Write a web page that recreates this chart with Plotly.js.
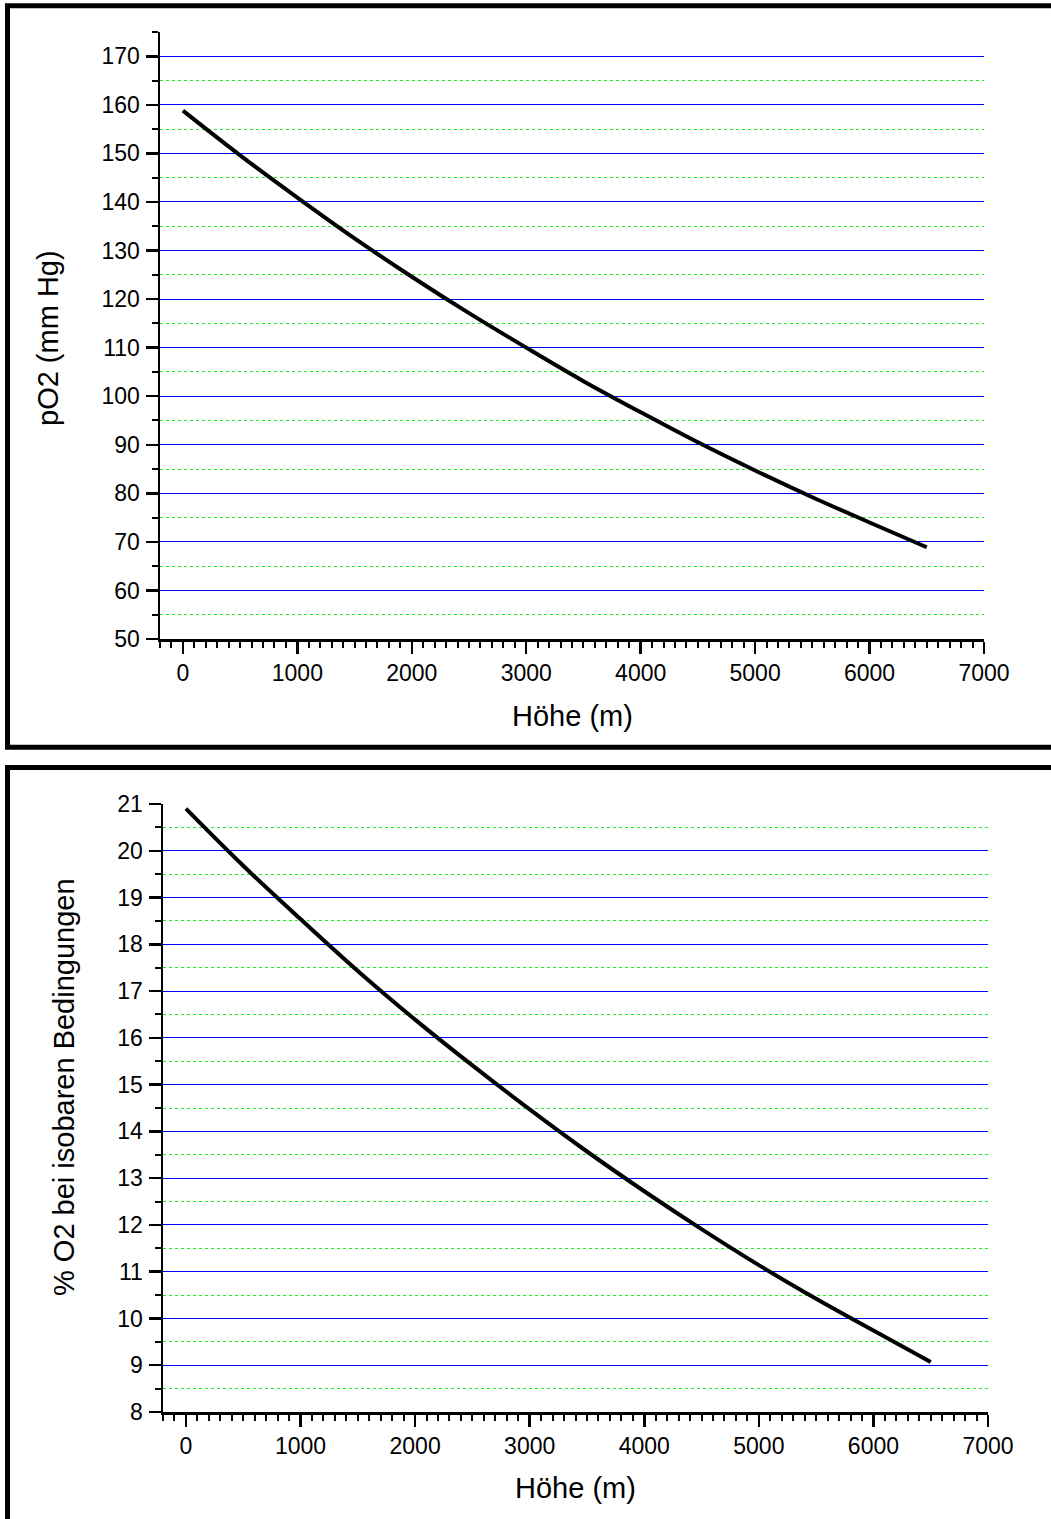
<!DOCTYPE html>
<html>
<head>
<meta charset="utf-8">
<script src="https://cdn.plot.ly/plotly-3.0.1.min.js"></script>
<style>
  html, body { margin: 0; padding: 0; background: #fff; }
  #chart { width: 1051px; height: 1519px; }
</style>
</head>
<body>
<div id="chart"></div>
<script>
// Altitude (m)
const heights = [0, 500, 1000, 1500, 2000, 2500, 3000, 3500, 4000, 4500, 5000, 5500, 6000, 6500];
// Partial pressure of O2 (mm Hg)
const pO2 = [158.8, 149.6, 140.9, 132.5, 124.6, 117.1, 110.0, 103.1, 96.7, 90.5, 84.7, 79.2, 74.0, 68.9];
// Equivalent % O2 at isobaric conditions
const pctO2 = [20.9, 19.68, 18.54, 17.43, 16.39, 15.41, 14.47, 13.57, 12.72, 11.91, 11.14, 10.42, 9.74, 9.07];

const xTitle = 'Höhe (m)';
const yTitleTop = 'pO2 (mm Hg)';
const yTitleBottom = '% O2 bei isobaren Bedingungen';

const W = 1051, H = 1519;
const px = v => v / W;
const py = v => (H - v) / H;

const FONT = 'Liberation Sans, Arial, sans-serif';
const tickFont = { family: FONT, size: 23, color: '#000' };
const titleFont = { family: FONT, size: 29, color: '#000' };

const xAxisBase = {
  range: [-200, 7000],
  tickmode: 'linear', tick0: 0, dtick: 1000,
  ticks: 'outside', ticklen: 12, tickwidth: 2.5, tickcolor: '#000',
  showline: true, linecolor: '#000', linewidth: 2.5,
  showgrid: false, zeroline: false,
  tickfont: tickFont,
  minor: { dtick: 100, tick0: 0, ticks: 'outside', ticklen: 6, tickwidth: 2, tickcolor: '#000', showgrid: false },
  fixedrange: true
};
const yAxisBase = {
  ticks: 'outside', ticklen: 12, tickwidth: 2.5, tickcolor: '#000',
  showline: true, linecolor: '#000', linewidth: 2.5,
  showgrid: true, gridcolor: '#0000ff', gridwidth: 1,
  zeroline: false,
  tickfont: tickFont,
  ticklabelstandoff: 1,
  fixedrange: true
};

const traces = [
  { x: heights, y: pO2, type: 'scatter', mode: 'lines', line: { color: '#000', width: 4, shape: 'spline' }, xaxis: 'x', yaxis: 'y', hoverinfo: 'skip' },
  { x: heights, y: pctO2, type: 'scatter', mode: 'lines', line: { color: '#000', width: 4, shape: 'spline' }, xaxis: 'x2', yaxis: 'y2', hoverinfo: 'skip' }
];

const layout = {
  width: W, height: H,
  margin: { l: 0, r: 0, t: 0, b: 0, autoexpand: false },
  paper_bgcolor: '#fff', plot_bgcolor: '#fff',
  showlegend: false,
  xaxis: Object.assign({}, xAxisBase, { domain: [px(160), px(984)], anchor: 'y' }),
  yaxis: Object.assign({}, yAxisBase, {
    domain: [py(639), py(32)], anchor: 'x',
    range: [50, 175], tickmode: 'linear', tick0: 50, dtick: 10,
    minor: { dtick: 5, tick0: 50, ticks: 'outside', ticklen: 6, tickwidth: 2, tickcolor: '#000', showgrid: true, gridcolor: '#22ee22', griddash: 'dot', gridwidth: 1 }
  }),
  xaxis2: Object.assign({}, xAxisBase, { domain: [px(163), px(988)], anchor: 'y2' }),
  yaxis2: Object.assign({}, yAxisBase, {
    domain: [py(1412), py(804)], anchor: 'x2',
    range: [8, 21], tickmode: 'linear', tick0: 8, dtick: 1,
    minor: { dtick: 0.5, tick0: 8, ticks: 'outside', ticklen: 6, tickwidth: 2, tickcolor: '#000', showgrid: true, gridcolor: '#22ee22', griddash: 'dot', gridwidth: 1 }
  }),
  annotations: [
    { text: xTitle, xref: 'paper', yref: 'paper', x: px(572), y: py(716), showarrow: false, font: titleFont, xanchor: 'center', yanchor: 'middle' },
    { text: yTitleTop, xref: 'paper', yref: 'paper', x: px(48), y: py(338), showarrow: false, font: titleFont, textangle: -90, xanchor: 'center', yanchor: 'middle' },
    { text: xTitle, xref: 'paper', yref: 'paper', x: px(575), y: py(1488), showarrow: false, font: titleFont, xanchor: 'center', yanchor: 'middle' },
    { text: yTitleBottom, xref: 'paper', yref: 'paper', x: px(64), y: py(1087), showarrow: false, font: titleFont, textangle: -90, xanchor: 'center', yanchor: 'middle' }
  ],
  shapes: [
    { type: 'rect', xref: 'paper', yref: 'paper', x0: px(7.5), x1: px(1070), y0: py(747.3), y1: py(5.8), line: { color: '#000', width: 5 }, fillcolor: 'rgba(0,0,0,0)', layer: 'above' },
    { type: 'rect', xref: 'paper', yref: 'paper', x0: px(7.5), x1: px(1070), y0: py(1540), y1: py(767.5), line: { color: '#000', width: 5 }, fillcolor: 'rgba(0,0,0,0)', layer: 'above' }
  ]
};

Plotly.newPlot('chart', traces, layout, { staticPlot: true, displayModeBar: false });
</script>
</body>
</html>
